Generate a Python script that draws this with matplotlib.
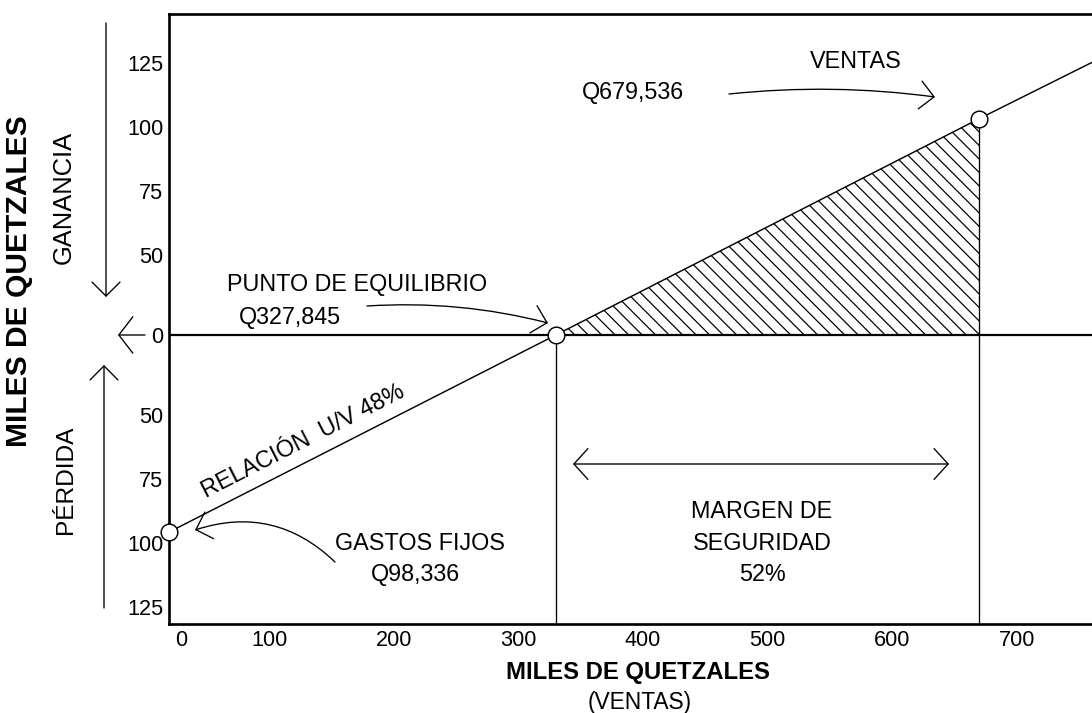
import numpy as np
import matplotlib
matplotlib.use("Agg")
import matplotlib.pyplot as plt
from matplotlib.patches import Polygon

plt.rcParams["font.family"] = ["Liberation Sans", "DejaVu Sans"]

## values (schematic scale of the axes)
line_x = [19.8, 330.0, 669.5, 760.0]      # relacion U/V line
line_y = [-77.0, 0.0, 84.5, 106.5]
gastos_fijos = (19.8, -77.0)
equilibrio = (330.0, 0.0)
ventas = (669.5, 84.5)

x_ticks = [29.4, 100, 200, 300, 400, 500, 600, 700]
x_labels = ["0", "100", "200", "300", "400", "500", "600", "700"]
y_ticks = [106.25, 81.25, 56.25, 31.25, 0, -31.25, -56.25, -81.25, -106.25]
y_labels = ["125", "100", "75", "50", "0", "50", "75", "100", "125"]

W, H = 1092, 713
DPI = 80


def fp(x, y):
    # reference pixel (top-left origin) -> figure fraction
    return (x / W, 1 - y / H)


fig = plt.figure(figsize=(W / DPI, H / DPI), dpi=DPI)
ax = fig.add_axes([169 / W, 89 / H, (W - 169) / W, 610 / H])
ax.set_xlim(19.8, 760)
ax.set_ylim(-112.9, 125.4)

for side in ["left", "top", "bottom"]:
    ax.spines[side].set_linewidth(2.4)
ax.spines["right"].set_visible(False)

ax.set_xticks(x_ticks, x_labels)
ax.set_yticks(y_ticks, y_labels)
ax.tick_params(length=0, labelsize=19.5)
ax.tick_params(axis="y", pad=5)
ax.tick_params(axis="x", pad=5)

# hatched profit triangle (45 degree lines drawn by hand, clipped)
tri = Polygon([equilibrio, ventas, (ventas[0], 0)], closed=True,
              facecolor="none", edgecolor="none")
ax.add_patch(tri)
p0 = ax.transData.transform((0, 0))
p1 = ax.transData.transform((1, 1))
sx, sy = p1[0] - p0[0], p1[1] - p0[1]
k = sx / sy
step = 13.5 / sx
for x0 in np.arange(equilibrio[0] + step * 0.4, ventas[0] + ventas[1] / k, step):
    hl, = ax.plot([x0 - 200, x0 + 200], [200 * k, -200 * k], color="black", lw=1.1, zorder=1)
    hl.set_clip_path(tri)

ax.axhline(0, color="black", lw=2.0, zorder=2)
ax.plot(line_x, line_y, color="black", lw=1.3, zorder=3)
ax.plot([equilibrio[0], equilibrio[0]], [equilibrio[1], -112.9], color="black", lw=1.2, zorder=2)
ax.plot([ventas[0], ventas[0]], [ventas[1], -112.9], color="black", lw=1.2, zorder=2)

px = [gastos_fijos[0], equilibrio[0], ventas[0]]
py = [gastos_fijos[1], equilibrio[1], ventas[1]]
ax.plot(px, py, "o", ms=15, mfc="white", mec="black", mew=1.3, zorder=6, clip_on=False)


def arrow(p0, p1, style="->", rad=0.0, hl=1.0, hw=1.0):
    ax.annotate("", xy=fp(*p1), xytext=fp(*p0),
                xycoords="figure fraction", textcoords="figure fraction",
                arrowprops=dict(arrowstyle=f"{style},head_length={hl},head_width={hw}",
                                connectionstyle=f"arc3,rad={rad}", lw=1.2, color="black",
                                shrinkA=0, shrinkB=0, mutation_scale=12.6))


def label(x, y, s, size=21, **kw):
    fig.text(*fp(x, y), s, ha="center", va="center", fontsize=size, **kw)


# arrows outside the axes
arrow((106, 23), (106, 297))
arrow((104, 608), (104, 365))
arrow((145, 335), (118, 335), hw=1.3)

# annotations
label(357, 285, "PUNTO DE EQUILIBRIO")
label(290, 318, "Q327,845")
arrow((367, 306), (548, 323), rad=-0.08)

label(856, 61, "VENTAS")
label(633, 93, "Q679,536")
arrow((729, 94), (935, 97), rad=-0.06)

label(303, 441, "RELACIÓN  U/V 48%", rotation=27)

label(420, 543, "GASTOS FIJOS")
label(415, 575, "Q98,336")
arrow((335, 562), (195, 530), rad=0.3)

arrow((573, 464), (949, 464), style="<->", hw=1.1)
label(762, 543, "MARGEN DE\nSEGURIDAD\n52%", linespacing=1.45)

label(64, 197, "GANANCIA", size=23, rotation=90)
label(66, 480, "PÉRDIDA", size=22, rotation=90)
label(19, 281, "MILES DE QUETZALES", size=27, rotation=90, fontweight="bold")
label(638, 673, "MILES DE QUETZALES", size=21.5, fontweight="bold")
label(640, 703, "(VENTAS)", size=20.5)

fig.savefig("out.png", dpi=DPI)
